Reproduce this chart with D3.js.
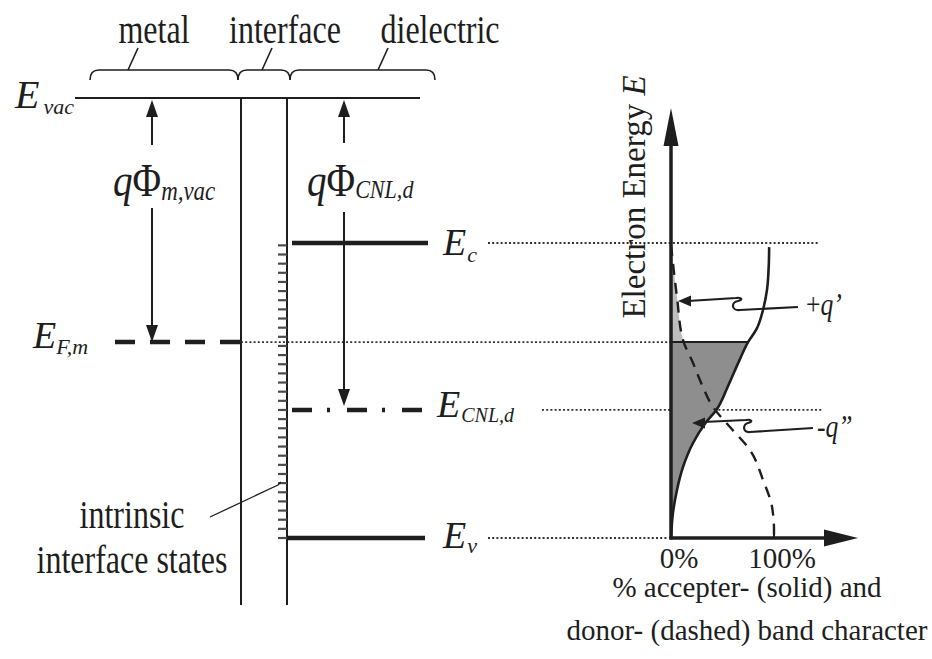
<!DOCTYPE html>
<html><head><meta charset="utf-8">
<script src="https://cdn.jsdelivr.net/npm/d3@7"></script>
<style>html,body{margin:0;padding:0;background:#fff}svg{display:block}</style>
</head><body><svg id="c" width="932" height="659"></svg>
<script>
// ---------- data ----------
const regionNames = ["metal", "interface", "dielectric"];
const levelNames = ["vac", "c", "F,m", "CNL,d", "v"];
const levelEnergy = [1.4915, 1.0, 0.664, 0.434, 0.0];        // relative to Ev, Ec = 1
const acceptorPct = [0, 1.9, 5.8, 11.7, 21.4, 33.5, 44.0, 55.0, 66.5, 74.8, 83.0, 89.3, 93.2, 95.0, 95.3];
const acceptorE   = [0, 0.085, 0.163, 0.241, 0.322, 0.390, 0.434, 0.512, 0.603, 0.664, 0.708, 0.773, 0.841, 0.932, 0.986];
const donorPct = [0, 5.8, 11.7, 21.4, 30.1, 40.8, 57.3, 76.7, 89.3, 98.1, 100, 100];
const donorE   = [0.993, 0.817, 0.671, 0.593, 0.519, 0.444, 0.376, 0.298, 0.197, 0.105, 0.027, 0];
const xTickValues = [0, 100];
const xTickLabels = ["0%", "100%"];
const stateE = [0, .031, .062, .093, .124, .155, .186, .217, .248, .279, .310, .341, .372, .403, .434, .465,
  .496, .527, .558, .589, .620, .651, .682, .713, .744, .775, .806, .837, .868, .899, .930, .961, .992];

// ---------- setup ----------
const svg = d3.select("#c");
svg.append("rect").attr("width", 932).attr("height", 659).attr("fill", "#fff");
const ink = "#1e1e1e";
const serif = "'Liberation Serif','Times New Roman',serif";
const y = d3.scaleLinear().domain([0, 1]).range([538, 243]);
const x = d3.scaleLinear().domain([0, 100]).range([671, 774]);
const E = {}; levelNames.forEach((n, i) => E[n] = levelEnergy[i]);

function txt(px, py, parts, opt = {}) {
  const sx = opt.sx || 1, rot = opt.rot || 0;
  const g = svg.append("g").attr("transform", `translate(${px},${py})${rot ? ` rotate(${rot})` : ""} scale(${sx},1)`);
  const t = g.append("text").attr("text-anchor", opt.anchor || "start").attr("font-family", serif).attr("fill", ink);
  parts.forEach(p => {
    t.append("tspan").text(p.t).attr("font-size", p.s).attr("font-style", p.i ? "italic" : "normal")
      .attr("dy", p.dy || 0).attr("dx", p.dx || 0);
  });
  return t;
}
function line(x1, y1, x2, y2, w, dash, col) {
  return svg.append("line").attr("x1", x1).attr("y1", y1).attr("x2", x2).attr("y2", y2)
    .attr("stroke", col || ink).attr("stroke-width", w).attr("stroke-dasharray", dash || null);
}
function head(xt, yt, dir, len, hw) {
  let pts;
  if (dir === "up") pts = [[xt, yt], [xt - hw, yt + len], [xt + hw, yt + len]];
  if (dir === "down") pts = [[xt, yt], [xt - hw, yt - len], [xt + hw, yt - len]];
  if (dir === "left") pts = [[xt, yt], [xt + len, yt - hw], [xt + len, yt + hw]];
  if (dir === "right") pts = [[xt, yt], [xt - len, yt - hw], [xt - len, yt + hw]];
  svg.append("polygon").attr("points", pts.map(p => p.join(",")).join(" ")).attr("fill", ink);
}

// ---------- left: region braces & labels ----------
const braceSpans = [[90, 238], [238, 290], [290, 435]];
const labelCenters = [154, 285, 440];
const leaderX = [128, 262, 378];
braceSpans.forEach(([a, b], i) => {
  svg.append("path").attr("d", `M${a},80 Q${a},70 ${a + 9},70 L${b - 9},70 Q${b},70 ${b},80`)
    .attr("fill", "none").attr("stroke", ink).attr("stroke-width", 1.6);
  line(leaderX[i], 70, leaderX[i] + 10, 48, 1.6);
  txt(labelCenters[i], 43, [{ t: regionNames[i], s: 40 }], { anchor: "middle", sx: 0.8 });
});

// ---------- left: levels ----------
const yVac = y(E["vac"]), yC = y(E["c"]), yF = y(E["F,m"]), yN = y(E["CNL,d"]), yV = y(E["v"]);
line(75, yVac, 420, yVac, 2);
// interface boundaries
line(241, yVac, 241, 605, 2);
line(287, yVac, 287, 605, 2);
// interface states
stateE.forEach(e => line(278, y(e), 287, y(e), 2.2, null, "#4a4a4a"));
// dotted reference lines
const dotCol = "#333", dotDash = "2,2.2";
line(241, yF, x(0), yF, 1.8, dotDash, dotCol);
line(488, yC, 818, yC, 1.8, dotDash, dotCol);
line(542, yN, 822, yN, 1.8, dotDash, dotCol);
line(488, yV, 668, yV, 1.8, dotDash, dotCol);
// band edges
line(292, yC, 428, yC, 4.5);
line(287, yV, 425, yV, 4.5);
line(115, yF, 240, yF, 4.5, "20,15");
line(292, yN, 422, yN, 4.5, "20,15,3,17");

// level labels
txt(15, yVac + 10, [{ t: "E", s: 40, i: 1 }, { t: "vac", s: 22, i: 1, dy: 6, dx: 4 }]);
txt(443, yC + 12, [{ t: "E", s: 38, i: 1 }, { t: "c", s: 22, i: 1, dy: 7, dx: 1 }]);
txt(33, yF + 6, [{ t: "E", s: 38, i: 1 }, { t: "F,m", s: 22, i: 1, dy: 6 }]);
txt(437, yN + 7, [{ t: "E", s: 38, i: 1 }, { t: "CNL,d", s: 20, i: 1, dy: 5, dx: 1 }]);
txt(443, yV + 10, [{ t: "E", s: 38, i: 1 }, { t: "v", s: 22, i: 1, dy: 5, dx: 1 }]);

// work-function arrows
line(152, yVac + 10, 152, 145, 2); head(152, yVac + 2, "up", 17, 6);
line(152, 208, 152, yF - 10, 2); head(152, yF, "down", 17, 6);
txt(113, 196, [{ t: "q", s: 46, i: 1 }, { t: "Φ", s: 46 }, { t: "m,vac", s: 27, i: 1, dy: 4 }], { sx: 0.85 });
line(344, yVac + 10, 344, 143, 2); head(344, yVac + 2, "up", 17, 6);
line(344, 212, 344, yN - 12, 2); head(344, yN - 4, "down", 17, 6);
txt(307, 196, [{ t: "q", s: 46, i: 1 }, { t: "Φ", s: 46 }, { t: "CNL,d", s: 26, i: 1, dy: 2 }], { sx: 0.85 });

// intrinsic interface states label
svg.append("path").attr("d", "M210,517 L278,485 L281,482").attr("fill", "none").attr("stroke", ink).attr("stroke-width", 1.3);
txt(132, 528, [{ t: "intrinsic", s: 40 }], { anchor: "middle", sx: 0.8 });
txt(132, 573, [{ t: "interface states", s: 40 }], { anchor: "middle", sx: 0.8 });

// ---------- right panel ----------
const acc = acceptorPct.map((p, i) => ({ p, e: acceptorE[i] }));
const don = donorPct.map((p, i) => ({ p, e: donorE[i] }));
function interpP(arr, e) {
  for (let i = 0; i < arr.length - 1; i++) {
    const a = arr[i], b = arr[i + 1];
    if ((a.e - e) * (b.e - e) <= 0 && a.e !== b.e) return a.p + (e - a.e) / (b.e - a.e) * (b.p - a.p);
  }
  return arr[arr.length - 1].p;
}
const eF = E["F,m"];
const accLow = acc.filter(d => d.e <= eF);
if (accLow[accLow.length - 1].e < eF) accLow.push({ p: interpP(acc, eF), e: eF });
const donHigh = don.filter(d => d.e >= eF);
if (donHigh[donHigh.length - 1].e > eF) donHigh.push({ p: interpP(don, eF), e: eF });

const byY = arr => arr.slice().sort((a, b) => b.e - a.e);   // top to bottom (ascending pixel y)
const curve = d3.curveMonotoneY;
const area = d3.area().y(d => y(d.e)).x0(x(0)).x1(d => x(d.p)).curve(curve);
svg.append("path").attr("d", area(byY(accLow))).attr("fill", "#8e8e8e");
svg.append("path").attr("d", area(byY(donHigh))).attr("fill", "#bdbdbd");
line(x(0), yF, x(accLow[accLow.length - 1].p), yF, 2);

const ln = d3.line().x(d => x(d.p)).y(d => y(d.e)).curve(curve);
svg.append("path").attr("d", ln(byY(acc))).attr("fill", "none").attr("stroke", ink).attr("stroke-width", 2.6);
svg.append("path").attr("d", ln(byY(don))).attr("fill", "none").attr("stroke", ink).attr("stroke-width", 2.4)
  .attr("stroke-dasharray", "11,8");

// axes
line(x(0), y(0) + 1.5, x(0), 140, 3.5); head(x(0), 108, "up", 38, 7.5);
line(x(0) - 1.5, y(0), 830, y(0), 3.5); head(858, y(0), "right", 34, 8.5);
line(x(100), y(0) - 8, x(100), y(0), 2);
xTickValues.forEach((v, i) => txt(x(v) + 8, 568, [{ t: xTickLabels[i], s: 29 }], { anchor: "middle" }));
txt(645, 197, [{ t: "Electron Energy ", s: 33 }, { t: "E", s: 33, i: 1 }], { anchor: "middle", rot: -90 });
txt(747, 597, [{ t: "% accepter- (solid) and", s: 29 }], { anchor: "middle" });
txt(747, 640, [{ t: "donor- (dashed) band character", s: 29 }], { anchor: "middle" });

// charge arrows
svg.append("path").attr("d", "M798,307 L740,310 C731,311 731,302 738,301 C743,300 742,297 736,298 L688,301")
  .attr("fill", "none").attr("stroke", ink).attr("stroke-width", 2.2);
head(678, 301, "left", 13, 5.5);
txt(806, 315, [{ t: "+", s: 32 }, { t: "q’", s: 32, i: 1 }], { sx: 0.8 });
svg.append("path").attr("d", "M813,428 L750,432 C742,433 743,424 748,423 C753,422 752,419 746,420 L703,422")
  .attr("fill", "none").attr("stroke", ink).attr("stroke-width", 2.2);
head(692, 423, "left", 13, 5.5);
txt(817, 437, [{ t: "-", s: 32 }, { t: "q”", s: 32, i: 1 }], { sx: 0.8 });
</script></body></html>
